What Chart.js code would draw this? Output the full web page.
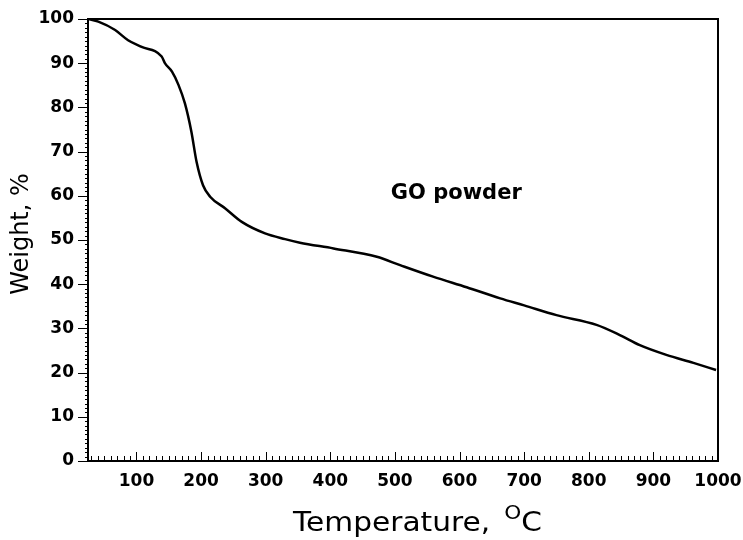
<!DOCTYPE html>
<html>
<head>
<meta charset="utf-8">
<script src="https://cdn.jsdelivr.net/npm/chart.js@4"></script>
<style>
  html, body { margin: 0; padding: 0; background: #fff; }
  #wrap { width: 743px; height: 540px; }
</style>
</head>
<body>
<div id="wrap"><canvas id="tga" width="743" height="540"></canvas></div>
<script>
// TGA curve of GO powder
const temps   = [25, 41, 67, 87, 108, 139, 144, 155, 165, 175, 185, 193, 203, 214, 237, 263, 299, 330, 353, 405, 472, 508, 559, 611, 663, 700, 750, 812, 848, 879, 920, 962, 997];
const weights = [100, 99.4, 97.5, 95.2, 93.7, 91.5, 90, 88.1, 85.1, 80.9, 74.5, 67.7, 62.4, 59.8, 57.2, 54.1, 51.5, 50.2, 49.4, 48.1, 46.2, 44.3, 41.7, 39.3, 36.8, 35.2, 33.0, 30.8, 28.5, 26.2, 24.0, 22.2, 20.6];

const xTickLabels = [100, 200, 300, 400, 500, 600, 700, 800, 900, 1000];
const yTickLabels = [0, 10, 20, 30, 40, 50, 60, 70, 80, 90, 100];

const xTitle = 'Temperature, ';
const xTitleSup = 'O';
const xTitleEnd = 'C';
const yTitle = 'Weight, %';
const label = 'GO powder';
const labelAt = { x: 595, y: 60.6 };

const FONT = '"DejaVu Sans", sans-serif';

// Frame, inward/outward tick marks, axis titles and the label
const decor = {
  id: 'decor',
  afterDraw(chart) {
    const { ctx, chartArea: a, scales: { x, y } } = chart;
    ctx.save();
    ctx.strokeStyle = '#000';

    // y ticks (outside, minor every 1)
    ctx.lineWidth = 1;
    ctx.beginPath();
    for (let v = 0; v <= 100; v += 1) {
      const py = Math.round(y.getPixelForValue(v)) + 0.5;
      const len = v % 10 === 0 ? 10 : 3;
      ctx.moveTo(a.left - len, py);
      ctx.lineTo(a.left, py);
    }
    // x ticks (inside, minor every 10)
    for (let v = 30; v < 1000; v += 10) {
      const px = Math.round(x.getPixelForValue(v)) + 0.5;
      const len = v % 100 === 0 ? 9 : 5;
      ctx.moveTo(px, a.bottom);
      ctx.lineTo(px, a.bottom - len);
    }
    ctx.stroke();

    // frame
    ctx.lineWidth = 2;
    ctx.strokeRect(a.left, a.top, a.right - a.left, a.bottom - a.top);

    ctx.fillStyle = '#000';
    // label inside plot
    ctx.font = 'bold 21px ' + FONT;
    ctx.textAlign = 'center';
    ctx.textBaseline = 'middle';
    ctx.fillText(label, x.getPixelForValue(labelAt.x), y.getPixelForValue(labelAt.y));

    // x title with superscript O, slightly widened like the source
    ctx.save();
    ctx.translate(293, 531);
    ctx.scale(1.14, 1);
    ctx.textBaseline = 'alphabetic';
    ctx.textAlign = 'left';
    let tx = 0;
    ctx.font = '26px ' + FONT;
    ctx.fillText(xTitle, tx, 0);
    tx += ctx.measureText(xTitle).width + 4;
    ctx.font = '19px ' + FONT;
    ctx.fillText(xTitleSup, tx, -12);
    tx += ctx.measureText(xTitleSup).width;
    ctx.font = '26px ' + FONT;
    ctx.fillText(xTitleEnd, tx, 0);
    ctx.restore();

    // y title
    ctx.font = '24px ' + FONT;
    ctx.translate(22, 234);
    ctx.rotate(-Math.PI / 2);
    ctx.textAlign = 'center';
    ctx.textBaseline = 'middle';
    ctx.fillText(yTitle, 0, 0);
    ctx.restore();
  }
};

new Chart(document.getElementById('tga'), {
  type: 'scatter',
  data: {
    datasets: [{
      data: temps.map((t, i) => ({ x: t, y: weights[i] })),
      showLine: true,
      borderColor: '#000',
      borderWidth: 2.5,
      pointRadius: 0,
      cubicInterpolationMode: 'monotone',
      fill: false
    }]
  },
  options: {
    responsive: false,
    animation: false,
    layout: { padding: { top: 19, right: 25, left: 0, bottom: 0 } },
    plugins: { legend: { display: false }, tooltip: { enabled: false } },
    scales: {
      x: {
        type: 'linear',
        min: 25,
        max: 1000,
        afterBuildTicks: s => { s.ticks = xTickLabels.map(v => ({ value: v })); },
        afterFit: s => { s.height = 79; s.paddingLeft = 0; s.paddingRight = 0; },
        grid: { display: false, drawTicks: false },
        border: { display: false },
        ticks: { color: '#000', padding: 10, maxRotation: 0, callback: v => String(v), font: { family: FONT, size: 17, weight: 'bold' } }
      },
      y: {
        min: 0,
        max: 100,
        afterBuildTicks: s => { s.ticks = yTickLabels.map(v => ({ value: v })); },
        afterFit: s => { s.width = 88; s.paddingTop = 0; s.paddingBottom = 0; },
        grid: { display: false, drawTicks: false },
        border: { display: false },
        ticks: { color: '#000', padding: 14, callback: v => String(v), font: { family: FONT, size: 17, weight: 'bold' } }
      }
    }
  },
  plugins: [decor]
});
</script>
</body>
</html>
